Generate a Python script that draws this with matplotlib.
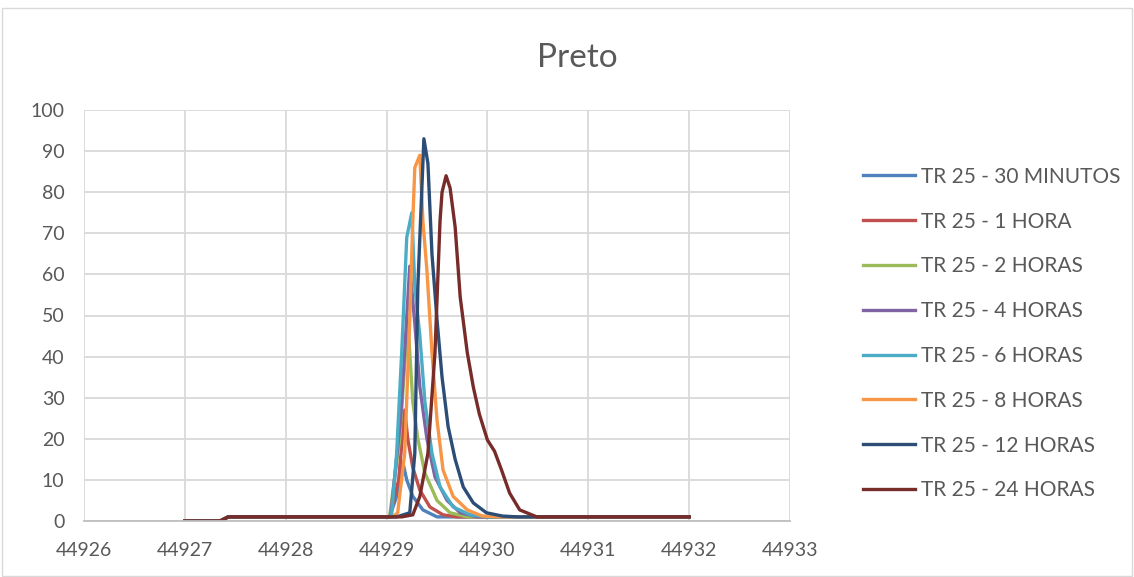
import numpy as np
import matplotlib.pyplot as plt

plt.rcParams['font.family'] = ['Lato', 'DejaVu Sans']

# shared baseline before / after the peaks
head_x = [44927.0, 44927.35, 44927.43, 44929.0]
head_y = [0, 0, 1, 1]
tail_x = [44932.0]
tail_y = [1]

labels = ['TR 25 - 30 MINUTOS', 'TR 25 - 1 HORA', 'TR 25 - 2 HORAS', 'TR 25 - 4 HORAS',
          'TR 25 - 6 HORAS', 'TR 25 - 8 HORAS', 'TR 25 - 12 HORAS', 'TR 25 - 24 HORAS']
colors = ['#4F81BD', '#C0504D', '#9BBB59', '#8064A2',
          '#4BACC6', '#F79646', '#2C4D75', '#772C2A']

x_30m = [44929.03, 44929.10, 44929.16, 44929.20, 44929.26, 44929.36, 44929.50]
y_30m = [1, 6, 14.4, 10, 6, 2.7, 1]
x_1h = [44929.03, 44929.12, 44929.18, 44929.21, 44929.26, 44929.33, 44929.43, 44929.56, 44929.70]
y_1h = [1, 10, 27, 20, 13, 7.5, 3.4, 1.5, 1]
x_2h = [44929.03, 44929.13, 44929.21, 44929.26, 44929.31, 44929.38, 44929.50, 44929.63, 44929.80]
y_2h = [1, 20, 49, 29, 20, 11.7, 5, 2, 1]
x_4h = [44929.04, 44929.14, 44929.23, 44929.28, 44929.33, 44929.40, 44929.48, 44929.60, 44929.73, 44929.90]
y_4h = [1, 25, 62, 48, 32.6, 20, 10.7, 5, 2, 1]
x_6h = [44929.03, 44929.05, 44929.10, 44929.15, 44929.20, 44929.25, 44929.28, 44929.33, 44929.38,
        44929.45, 44929.53, 44929.66, 44929.83, 44930.00]
y_6h = [1, 1.5, 16.5, 41, 69, 75, 57, 45, 29, 16.5, 8.3, 3.4, 1.5, 1]
x_8h = [44929.06, 44929.11, 44929.18, 44929.23, 44929.26, 44929.28, 44929.33, 44929.36, 44929.40,
        44929.45, 44929.50, 44929.56, 44929.66, 44929.80, 44929.95, 44930.10]
y_8h = [1, 2, 16.5, 49, 73, 86, 89, 73, 61, 41, 24.6, 12.4, 6, 2.7, 1.2, 1]
x_12h = [44929.10, 44929.23, 44929.28, 44929.31, 44929.35, 44929.37, 44929.41, 44929.45, 44929.50,
         44929.55, 44929.61, 44929.68, 44929.76, 44929.86, 44929.99, 44930.15, 44930.30]
y_12h = [1, 2, 16.5, 57, 81, 93, 87, 65, 49, 35, 23, 15, 8.3, 4.4, 2, 1.2, 1]
x_24h = [44929.15, 44929.26, 44929.33, 44929.41, 44929.48, 44929.53, 44929.55, 44929.59, 44929.63,
         44929.68, 44929.73, 44929.80, 44929.86, 44929.92, 44930.00, 44930.07, 44930.14, 44930.22,
         44930.32, 44930.49, 44930.60]
y_24h = [1, 1.5, 6, 16.5, 41, 73, 80, 84, 81, 71.5, 54.5, 41, 32.6, 26, 19.7, 17, 12.4, 6.8,
         2.7, 1, 1]

series = [(x_30m, y_30m), (x_1h, y_1h), (x_2h, y_2h), (x_4h, y_4h),
          (x_6h, y_6h), (x_8h, y_8h), (x_12h, y_12h), (x_24h, y_24h)]

fig = plt.figure(figsize=(11.34, 5.77), dpi=100)
ax = fig.add_axes([84/1134, 56/577, 706/1134, 411/577])

for (xs, ys), lab, c in zip(series, labels, colors):
    ax.plot(head_x + xs + tail_x, head_y + ys + tail_y, color=c, lw=2.4, label=lab,
            solid_joinstyle='round')

ax.set_xlim(44926, 44933)
ax.set_ylim(0, 100)
ax.set_xticks(np.arange(44926, 44934, 1))
ax.set_yticks(np.arange(0, 101, 10))
ax.ticklabel_format(useOffset=False, style='plain')
ax.grid(True, color='#D9D9D9', lw=1.3)
ax.set_axisbelow(True)
for s in ['top', 'right', 'left']:
    ax.spines[s].set_visible(False)
ax.spines['bottom'].set_color('#BFBFBF')
ax.spines['bottom'].set_linewidth(1.3)
ax.tick_params(length=0, labelsize=14, labelcolor='#595959')
ax.tick_params(axis='x', pad=15)
ax.tick_params(axis='y', pad=14)

fig.text(577/1134, 1 - 58/577, 'Preto', ha='center', va='center', fontsize=24, color='#595959')

fig.legend(loc='upper left', bbox_to_anchor=(844/1134, 1 - 148/577), frameon=False,
           fontsize=15, labelcolor='#595959', handlelength=2.5, handletextpad=0.3,
           labelspacing=1.19)

# outer border
fig.patches.append(plt.Rectangle((0.002, 0.002), 0.996, 0.985, transform=fig.transFigure,
                                 fill=False, edgecolor='#D9D9D9', lw=1))

fig.savefig('out.png', dpi=100)
